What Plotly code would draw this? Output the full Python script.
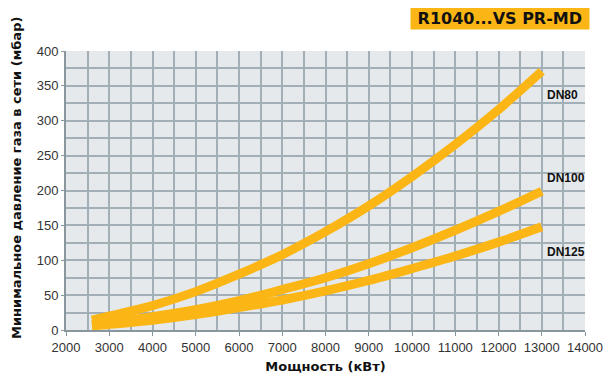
import plotly.graph_objects as go

power_kw = [2600, 3000, 4000, 5000, 6000, 7000, 8000, 9000, 10000, 11000, 12000, 13000]
dn80 = [14, 20, 35, 55, 80, 108, 141, 178, 220, 266, 316, 371]
dn100 = [8, 11, 19, 29, 42, 58, 75, 95, 118, 143, 170, 199]
dn125 = [6, 8, 14, 22, 32, 43, 56, 71, 88, 106, 126, 148]
series_names = ["DN80", "DN100", "DN125"]
label_y = [337, 218, 112]

ORANGE = "#fbb615"
GRID = "#a3afb6"
FONT = "Liberation Sans, Arial, sans-serif"
BOLD = "DejaVu Sans, sans-serif"

fig = go.Figure()
for name, vals in zip(series_names, [dn80, dn100, dn125]):
    fig.add_trace(go.Scatter(x=power_kw, y=vals, mode="lines", name=name,
                             line=dict(color=ORANGE, width=9, shape="spline"),
                             showlegend=False, hoverinfo="skip"))

for name, ly in zip(series_names, label_y):
    fig.add_annotation(x=13080, y=ly, text=f"<b>{name}</b>", showarrow=False,
                       xanchor="left", yanchor="middle",
                       font=dict(family=FONT, size=12, color="#111"))

fig.add_annotation(xref="paper", yref="paper", x=1.0096, y=1.115,
                   text="<b> R1040...VS PR-MD </b>", showarrow=False,
                   xanchor="right", yanchor="middle",
                   bgcolor=ORANGE, borderpad=1,
                   font=dict(family=BOLD, size=16, color="#111"))

# y-axis title as a rotated annotation (sits slightly above the axis centre)
fig.add_annotation(xref="paper", yref="paper", x=-0.0944, y=0.545,
                   text="<b>Минимальное давление газа в сети (мбар)</b>",
                   showarrow=False, textangle=-90,
                   xanchor="center", yanchor="middle",
                   font=dict(family=BOLD, size=13, color="#111"))

# page body has an 8px margin, so the figure is sized/offset to compensate
fig.update_layout(
    width=606, height=370,
    margin=dict(l=58, r=29, t=43, b=48),
    paper_bgcolor="white",
    plot_bgcolor="#e5e9eb",
    font=dict(family=FONT, size=13, color="#333"),
    xaxis=dict(range=[2000, 14000], dtick=1000, tick0=2000, tickformat="d",
               automargin=False,
               showgrid=True, gridcolor=GRID, gridwidth=1.5,
               minor=dict(dtick=500, showgrid=True, gridcolor=GRID, gridwidth=1.5),
               showline=True, linecolor="#8a969d", linewidth=2,
               ticks="outside", ticklen=4, tickcolor="#8a969d",
               zeroline=False,
               title=dict(text="<b>Мощность (кВт)</b>", standoff=8,
                          font=dict(family=BOLD, size=13, color="#111")),
               tickfont=dict(size=13, color="#333")),
    yaxis=dict(range=[0, 400], dtick=50, tickformat="d",
               automargin=False,
               showgrid=True, gridcolor=GRID, gridwidth=1.5,
               minor=dict(dtick=25, showgrid=True, gridcolor=GRID, gridwidth=1.5),
               showline=True, linecolor="#8a969d", linewidth=2,
               ticks="outside", ticklen=3, tickcolor="#8a969d",
               zeroline=False,
               tickfont=dict(size=13, color="#333")),
)

fig.write_html("out.html")
